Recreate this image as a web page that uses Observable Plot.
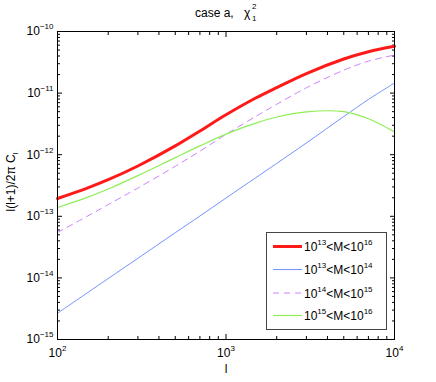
<!DOCTYPE html>
<html><head><meta charset="utf-8">
<script src="https://cdn.jsdelivr.net/npm/d3@7"></script>
<script src="https://cdn.jsdelivr.net/npm/@observablehq/plot@0.6"></script>
<style>
body{margin:0;background:#fff}
svg text{font-family:"Liberation Sans",Arial,sans-serif}
</style>
</head><body><div id="chart"></div>
<script>
// multipole l
const ells = [100,150,200,300,500,700,1000,1500,2000,3000,5000,7000,10000];
// l(l+1)/2pi C_l for each mass bin
const total   = [1.945e-13,2.87e-13,3.93e-13,6.56e-13,1.39e-12,2.43e-12,4.45e-12,8.32e-12,1.23e-11,2.08e-11,3.58e-11,4.70e-11,5.77e-11];
const bin1314 = [2.67e-15,5.70e-15,9.77e-15,2.08e-14,5.42e-14,1.01e-13,1.98e-13,4.22e-13,7.23e-13,1.55e-12,4.17e-12,7.87e-12,1.46e-11];
const bin1415 = [5.46e-14,1.00e-13,1.55e-13,2.88e-13,6.49e-13,1.14e-12,2.14e-12,4.17e-12,6.58e-12,1.22e-11,2.36e-11,3.30e-11,4.15e-11];
const bin1516 = [1.39e-13,2.03e-13,2.77e-13,4.58e-13,8.97e-13,1.39e-12,2.16e-12,3.26e-12,4.09e-12,4.97e-12,4.99e-12,3.83e-12,2.34e-12];

const legendLabels = [["10","13","<M<10","16"],["10","13","<M<10","14"],["10","14","<M<10","15"],["10","15","<M<10","16"]];
const xMajor = [100,1000,10000];
const yMajor = [1e-15,1e-14,1e-13,1e-12,1e-11,1e-10];
const xMinor = [2,3,4,5,6,7,8,9].flatMap(m => [100,1000].map(d => m*d));
const yMinor = [2,3,4,5,6,7,8,9].flatMap(m => [1e-15,1e-14,1e-13,1e-12,1e-11].map(d => m*d));

const styles = [
  {stroke:"#ff1a1a", strokeWidth:3},
  {stroke:"#7393ff", strokeWidth:1},
  {stroke:"#cc80ff", strokeWidth:1, strokeDasharray:"6,5"},
  {stroke:"#8fee55", strokeWidth:1.2}
];
const seriesVals = [total, bin1314, bin1415, bin1516];

const expFmt = d => { const e = Math.round(Math.log10(d)); return "10^" + (e < 0 ? "\u2212" + (-e) : e); };
const blank = () => "";

const plot = Plot.plot({
  width:436, height:382,
  marginLeft:57, marginRight:42, marginTop:31, marginBottom:43,
  style:{fontSize:"12px", background:"#fff", color:"#000", fontFamily:"Liberation Sans, Arial, sans-serif"},
  x:{type:"log", domain:[100,10000]},
  y:{type:"log", domain:[1e-15,1e-10]},
  marks:[
    Plot.axisX({anchor:"bottom", ticks:xMajor, tickSize:0, tickPadding:9, tickFormat:expFmt, label:null}),
    Plot.axisY({anchor:"left", ticks:yMajor, tickSize:0, tickPadding:4, tickFormat:expFmt, label:null}),
    Plot.axisX({anchor:"bottom", ticks:xMajor, tickSize:-5, tickFormat:blank, label:null}),
    Plot.axisX({anchor:"bottom", ticks:xMinor, tickSize:-3, tickFormat:blank, label:null}),
    Plot.axisX({anchor:"top", ticks:xMajor, tickSize:-5, tickFormat:blank, label:null}),
    Plot.axisX({anchor:"top", ticks:xMinor, tickSize:-3, tickFormat:blank, label:null}),
    Plot.axisY({anchor:"left", ticks:yMajor, tickSize:-5, tickFormat:blank, label:null}),
    Plot.axisY({anchor:"left", ticks:yMinor, tickSize:-3, tickFormat:blank, label:null}),
    Plot.axisY({anchor:"right", ticks:yMajor, tickSize:-5, tickFormat:blank, label:null}),
    Plot.axisY({anchor:"right", ticks:yMinor, tickSize:-3, tickFormat:blank, label:null}),
    ...seriesVals.map((vals, i) => Plot.line(vals, {x:ells, y:vals, curve:"catmull-rom", ...styles[i]})),
    Plot.frame({stroke:"#000", strokeWidth:1})
  ]
});

const svg = d3.select(plot);
// superscripts in tick labels
svg.selectAll("text").each(function(){
  const t = this.textContent;
  const m = t.match(/^10\^(.+)$/);
  if (m) {
    const s = d3.select(this);
    s.text("10");
    s.append("tspan").attr("dy", -6).attr("font-size", 8).text(m[1]);
  }
});

// title
const title = svg.append("text").attr("x", 195).attr("y", 17).attr("font-size", 12).attr("fill", "#000").attr("text-anchor", "start");
title.append("tspan").text("case a,");
title.append("tspan").attr("x", 244).text("\u03c7");
title.append("tspan").attr("x", 252).attr("dy", -8).attr("font-size", 8).text("2");
title.append("tspan").attr("x", 252).attr("dy", 12).attr("font-size", 8).text("1");

// y label
const yl = svg.append("text").attr("transform", "translate(15,182) rotate(-90)").attr("text-anchor", "middle").attr("font-size", 12).attr("fill", "#000");
yl.append("tspan").text("l(l+1)/2\u03c0 C");
yl.append("tspan").attr("dy", 3).attr("font-size", 8).text("l");

// x label
svg.append("text").attr("x", 226).attr("y", 373).attr("text-anchor", "middle").attr("font-size", 12).attr("fill", "#000").text("l");

// legend
const lg = svg.append("g");
lg.append("rect").attr("x", 266.5).attr("y", 232.5).attr("width", 120).attr("height", 97).attr("fill", "#fff").attr("stroke", "#444").attr("stroke-width", 1);
const rowsY = [246.5, 269.5, 293, 315.5];
legendLabels.forEach((lab, i) => {
  const st = styles[i];
  lg.append("line").attr("x1", 273).attr("x2", 302).attr("y1", rowsY[i]).attr("y2", rowsY[i])
    .attr("stroke", st.stroke).attr("stroke-width", st.strokeWidth).attr("stroke-dasharray", st.strokeDasharray || null);
  const tx = lg.append("text").attr("x", 304).attr("y", rowsY[i] + 4.5).attr("font-size", 12).attr("fill", "#000").attr("text-anchor", "start");
  tx.append("tspan").text(lab[0]);
  tx.append("tspan").attr("dy", -6).attr("font-size", 8).text(lab[1]);
  tx.append("tspan").attr("dy", 6).text(lab[2]);
  tx.append("tspan").attr("dy", -6).attr("font-size", 8).text(lab[3]);
});

document.getElementById("chart").appendChild(plot);
</script>
</body></html>
